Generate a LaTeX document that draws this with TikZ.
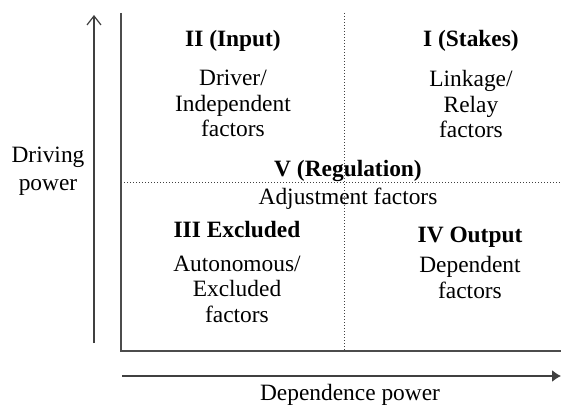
\documentclass[tikz,border=0pt]{standalone}
\usepackage{fontspec}
\setmainfont{Liberation Serif}
\usetikzlibrary{positioning}
\usetikzlibrary{arrows.meta}
\def\quadfont{\fontsize{23.4}{25.5}\selectfont}
\tikzset{
title/.style={font=\quadfont\bfseries, inner sep=0pt, anchor=base},
desc/.style={font=\quadfont, align=center, inner sep=0pt},
frame/.style={draw=black!70, line width=1.6pt},
split/.style={draw=black!75, dotted, line width=1pt},
axis/.style={draw=black!75, line width=1.3pt},
}

\begin{document}
\begin{tikzpicture}[x=1pt, y=-1pt]
	\useasboundingbox (0,0) rectangle (561,406);
	
	%
	\coordinate (tl) at (121,13);
	\coordinate (bl) at (121,351);
	\coordinate (br) at (561,351);
	\coordinate (vt) at (344,13);
	\coordinate (vb) at (344,351);
	\coordinate (hl) at (121,182);
	\coordinate (hr) at (561,182);
	
	\draw[frame] (tl) -- (bl) -- (br);
	\draw[split] (vt) -- (vb);
	\draw[split] (hl) -- (hr);
	
	%
	\coordinate (y0) at (94,343);
	\coordinate (y1) at (94,15);
	\coordinate (x0) at (122,376);
	\coordinate (x1) at (561,376);
	\draw[axis, -{Straight Barb[length=9pt, width=14pt, line width=1.2pt]}] (y0) -- (y1);
	\draw[axis, -{Latex[length=9pt, width=12pt]}] (x0) -- (x1);
	
	%
	\node[title] (input) at (233,47) {II (Input)};
	\node[desc, below=18pt of input] (driver) {Driver/\\Independent\\factors};
	
	\node[title] (stakes) at (471,47) {I (Stakes)};
	\node[desc, below=18pt of stakes] (relay) {Linkage/\\Relay\\factors};
	
	\node[title] (regul) at (348,176) {V (Regulation)};
	\node[desc, below=6pt of regul] (adjust) {Adjustment factors};
	
	\node[title] (excl) at (237,237) {III Excluded};
	\node[desc, below=18pt of excl] (auton) {Autonomous/\\Excluded\\factors};
	
	\node[title] (output) at (470,242) {IV Output};
	\node[desc, below=9pt of output] (depend) {Dependent\\factors};
	
	\node[desc, font=\fontsize{23.4}{27.5}\selectfont] (drive) at (48,171) {Driving\\power};
	\node[desc] (dep) at (350,395) {Dependence power};
\end{tikzpicture}
\end{document}
